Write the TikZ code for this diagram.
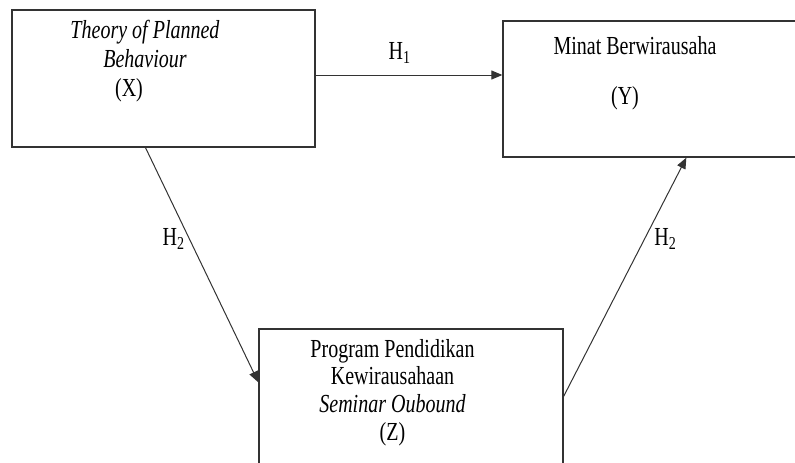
\documentclass[tikz,border=0pt]{standalone}
\usepackage{fontspec}
\setmainfont[FakeStretch=0.77]{Liberation Serif}
\usetikzlibrary{positioning,arrows.meta}

\begin{document}
\begin{tikzpicture}
[x=1pt, y=-1pt, font=\fontsize{26}{29}\selectfont,
    ->, >={Triangle[length=11pt,width=9pt]},
    varbox/.style={draw=black!80, line width=1.3pt, rectangle, inner sep=0pt},
    vartext/.style={align=center, inner sep=0pt, anchor=north},
    hyp/.style={draw=black!80, line width=1pt},
    ]
    \useasboundingbox (0,0) rectangle (795,463);
    \clip (0,0) rectangle (795,463);

    \node[varbox, minimum width=303pt, minimum height=137pt] (tpb) at (163.5,78.5) {};
    \node[varbox, minimum width=330pt, minimum height=136pt] (minat) at (668,89) {};
    \node[varbox, minimum width=304pt, minimum height=180pt] (program) at (411,419) {};

    \node[vartext] (tpb_text) at (145,20) {{\itshape Theory of Planned}\\{\itshape Behaviour}\\(X)\hspace*{32pt}};
    \node[vartext] (minat_text) at (635,36) {Minat Berwirausaha\\[21pt](Y)\hspace*{20pt}};
    \node[vartext, font=\fontsize{26}{27.7}\selectfont] (program_text) at (392.5,339)
        {Program Pendidikan\\Kewirausahaan\\{\itshape Seminar Oubound}\\(Z)};

    \draw[hyp] ([yshift=3.5pt]tpb.east) -- ([yshift=3.5pt]tpb.east -| minat.west)
        node[pos=0.45, above=8pt] (h1) {H\textsubscript{1}};
    \draw[hyp] ([xshift=-18pt]tpb.south) -- ([yshift=-54pt]program.north west)
        node[pos=0.39, left=1pt] (h2_left) {H\textsubscript{2}};
    \draw[hyp] ([yshift=-68pt]program.north east) -- ([xshift=184pt]minat.south west)
        node[pos=0.66, right=6pt] (h2_right) {H\textsubscript{2}};

\end{tikzpicture}
\end{document}
